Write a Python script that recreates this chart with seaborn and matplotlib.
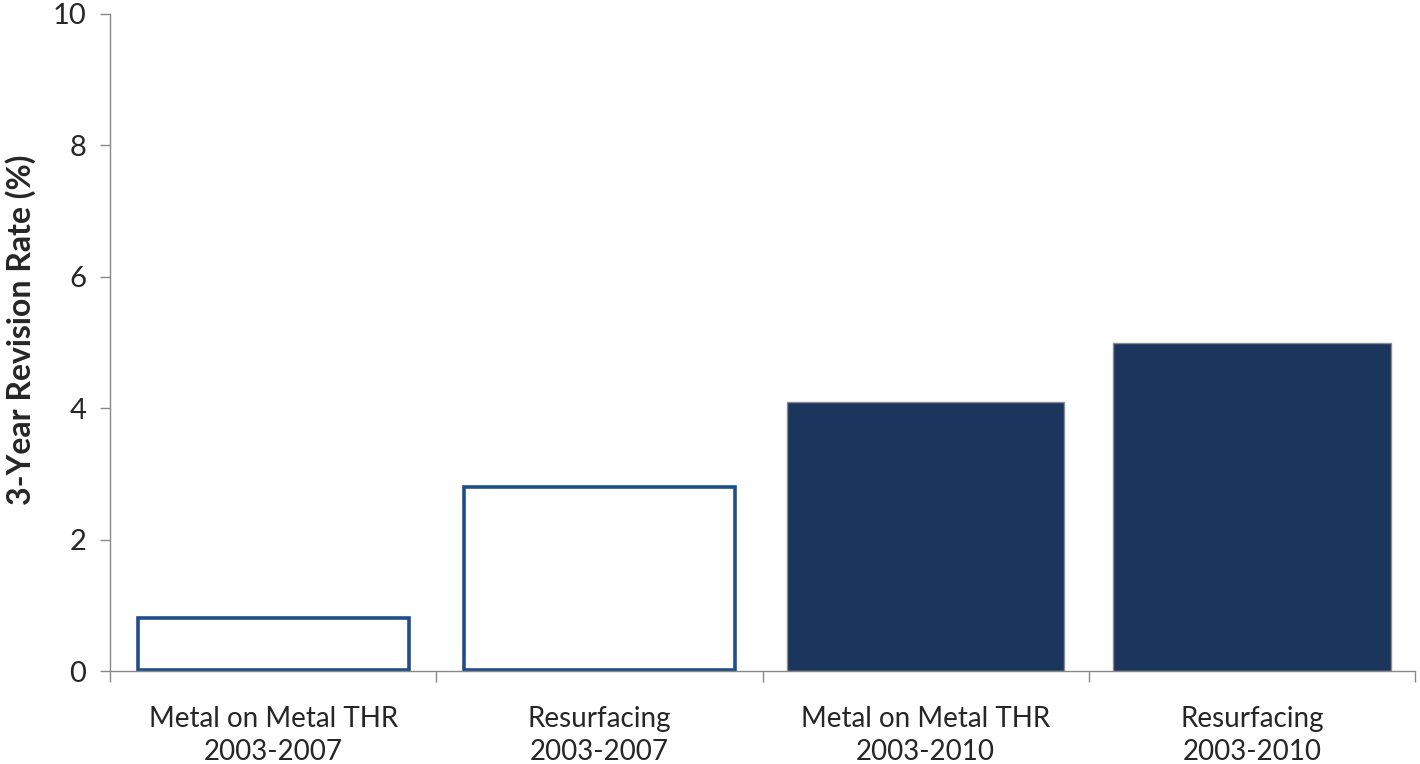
import numpy as np
import pandas as pd
import seaborn as sns
import matplotlib.pyplot as plt
from matplotlib.ticker import FixedLocator

categories = ["Metal on Metal THR\n2003-2007", "Resurfacing\n2003-2007",
              "Metal on Metal THR\n2003-2010", "Resurfacing\n2003-2010"]
revision_rate = [0.8, 2.8, 4.1, 5.0]
filled = [False, False, True, True]

df = pd.DataFrame({"group": categories, "rate": revision_rate})

sns.set_style("white")
plt.rcParams['font.family'] = ['Lato', 'DejaVu Sans']

fig = plt.figure(figsize=(14.2, 7.64), dpi=100)
ax = fig.add_axes([0.0775, 0.1217, 0.919, 0.86])

sns.barplot(data=df, x="group", y="rate", ax=ax, width=0.85, color="#1b365d")

navy = "#1b365d"
outline = "#1f4e8a"
for bar, f in zip(ax.patches, filled):
    if f:
        bar.set_facecolor(navy)
        bar.set_edgecolor("#8c8c8c")
        bar.set_linewidth(1.0)
    else:
        bar.set_facecolor("white")
        bar.set_edgecolor(outline)
        bar.set_linewidth(2.6)
        # keep the outline inside the bar footprint
        x0, w = bar.get_x(), bar.get_width()
        bar.set_x(x0 + 0.01)
        bar.set_width(w - 0.02)
        bar.set_height(bar.get_height() - 0.02)
        bar.set_y(0.02)

ax.set_xlim(-0.5, 3.5)
ax.set_ylim(0, 10)
ax.set_yticks([0, 2, 4, 6, 8, 10])
ax.tick_params(axis="y", labelsize=21, length=7, width=1, color="#888888",
               direction="out", left=True, pad=10)
ax.tick_params(axis="x", which="major", labelsize=20, length=0, pad=25)
for lbl in ax.get_xticklabels():
    lbl.set_linespacing(1.35)
ax.xaxis.set_minor_locator(FixedLocator(np.arange(-0.5, 4.0, 1.0)))
ax.tick_params(axis="x", which="minor", length=8, width=1, color="#888888",
               direction="out", bottom=True)

for s in ["top", "right"]:
    ax.spines[s].set_visible(False)
for s in ["left", "bottom"]:
    ax.spines[s].set_color("#888888")
    ax.spines[s].set_linewidth(1.0)

ax.set_xlabel("")
ax.set_ylabel("3-Year Revision Rate (%)", fontsize=23, fontweight="bold")
ax.yaxis.set_label_coords(-0.057, 0.52)

fig.savefig("out.png", dpi=100)
